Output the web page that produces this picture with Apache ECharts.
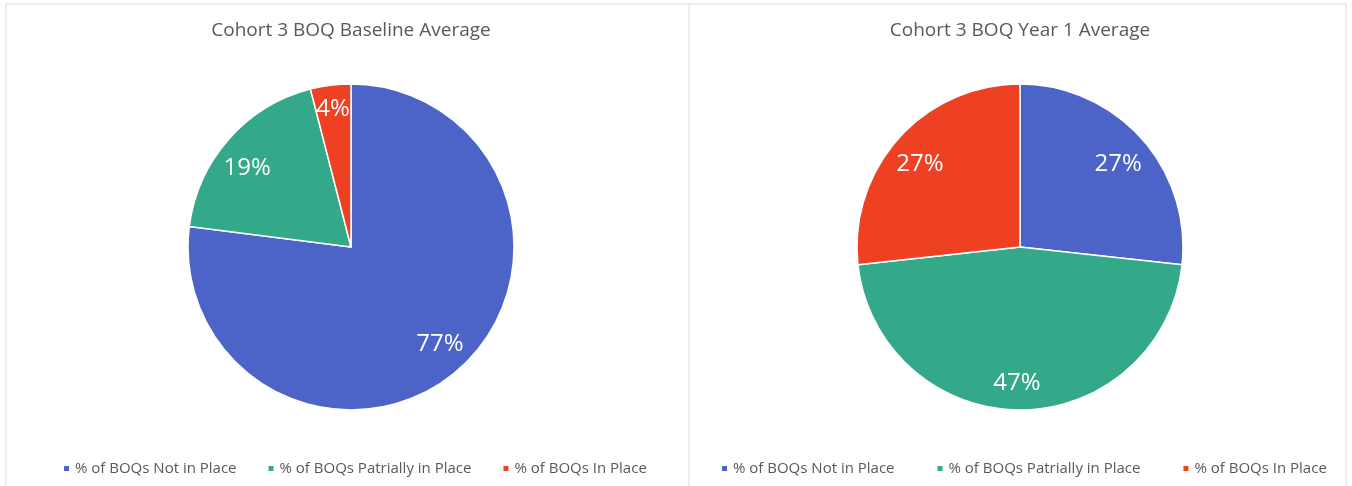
<!DOCTYPE html>
<html>
<head>
<meta charset="utf-8">
<script src="https://cdn.jsdelivr.net/npm/echarts@6/dist/echarts.min.js"></script>
<style>
html,body{margin:0;padding:0;background:#fff;}
#c{width:1352px;height:486px;}
</style>
</head>
<body>
<div id="c"></div>
<script>
const categories = ['% of BOQs Not in Place', '% of BOQs Patrially in Place', '% of BOQs In Place'];
const baselineValues = [77, 19, 4];
const year1Values = [27, 47, 27];
const titles = ['Cohort 3 BOQ Baseline Average', 'Cohort 3 BOQ Year 1 Average'];
const colors = ['#4C64C7', '#34A98A', '#EE4123'];

const FONT = 'Open Sans';
const chart = echarts.init(document.getElementById('c'));

function mk(values) {
  return values.map((v, i) => ({ name: categories[i], value: v, itemStyle: { color: colors[i] } }));
}
const centers = [[351, 247], [1020, 247]];
const R = 163;
// small nudges of the data labels (pixels) to mimic the original label placement
const labelNudge = [[[0, -4], [-3, 10], [-1, -4]], [[-2, 7], [-3, 2], [0, 7]]];

const series = [];
[baselineValues, year1Values].forEach((vals, k) => {
  series.push({
    type: 'pie', center: centers[k], radius: R, startAngle: 90, clockwise: true,
    data: mk(vals), label: { show: false }, labelLine: { show: false },
    itemStyle: { borderColor: '#fff', borderWidth: 1.5 },
    emphasis: { disabled: true }, animation: false
  });
});
[baselineValues, year1Values].forEach((vals, k) => {
  series.push({
    type: 'pie', center: centers[k], radius: [100, R], startAngle: 90, clockwise: true,
    silent: true, animation: false,
    data: vals.map((v, i) => ({
      name: categories[i], value: v, itemStyle: { color: 'rgba(0,0,0,0)' },
      label: { offset: labelNudge[k][i] }
    })),
    label: { show: true, position: 'inside', formatter: '{c}%', color: '#fff', fontSize: 24, fontFamily: FONT },
    labelLine: { show: false }, emphasis: { disabled: true }
  });
});

const legendCommon = {
  orient: 'horizontal', top: 456, itemWidth: 7, itemHeight: 7,
  icon: 'rect', selectedMode: false,
  textStyle: { color: '#595959', fontSize: 15, fontFamily: FONT },
  data: categories
};

chart.setOption({
  backgroundColor: '#fff',
  animation: false,
  title: titles.map((t, k) => ({
    text: t, left: centers[k][0] - 5, top: 16, textAlign: 'center',
    textStyle: { color: '#595959', fontSize: 19, fontWeight: 'normal', fontFamily: FONT }
  })),
  legend: [
    Object.assign({}, legendCommon, { left: 57, itemGap: 30 }),
    Object.assign({}, legendCommon, { left: 715, itemGap: 41 })
  ],
  graphic: [
    { type: 'line', shape: { x1: 6, y1: 4, x2: 1346, y2: 4 }, style: { stroke: '#d9d9d9', lineWidth: 1 }, silent: true },
    { type: 'line', shape: { x1: 6, y1: 4, x2: 6, y2: 486 }, style: { stroke: '#d9d9d9', lineWidth: 1 }, silent: true },
    { type: 'line', shape: { x1: 689, y1: 4, x2: 689, y2: 486 }, style: { stroke: '#d9d9d9', lineWidth: 1 }, silent: true },
    { type: 'line', shape: { x1: 1346, y1: 4, x2: 1346, y2: 486 }, style: { stroke: '#d9d9d9', lineWidth: 1 }, silent: true }
  ],
  series: series
});
</script>
</body>
</html>
